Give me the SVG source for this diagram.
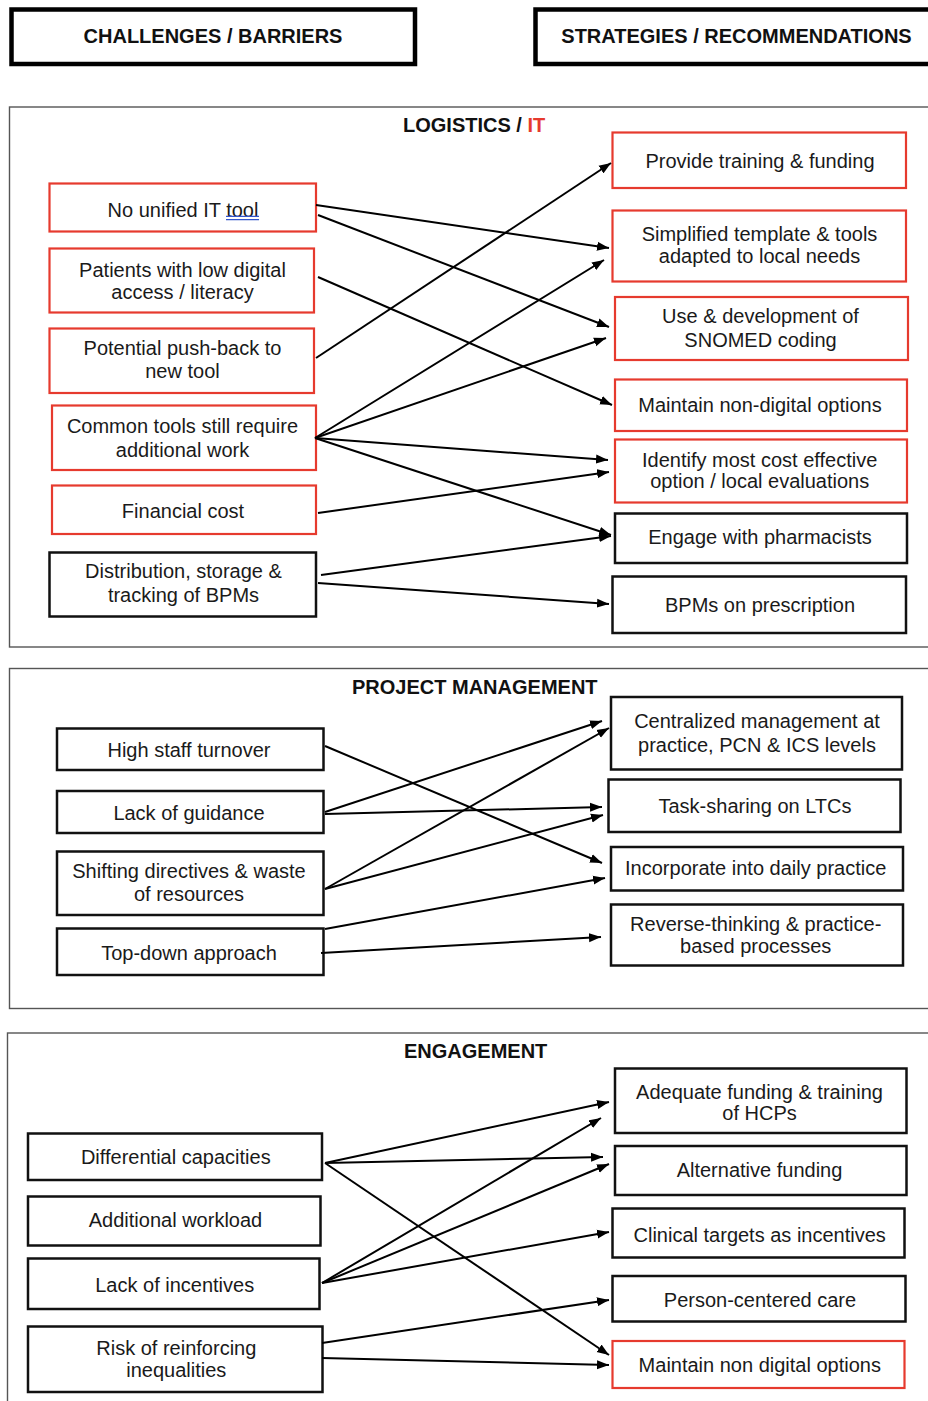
<svg xmlns="http://www.w3.org/2000/svg" width="928" height="1401" viewBox="0 0 928 1401">
<defs>
<style>
.r{fill:#fff;stroke:#e63a2e;stroke-width:2.2}
.k{fill:#fff;stroke:#111;stroke-width:2.5}
.hb{fill:#fff;stroke:#000;stroke-width:4.5}
.fr{fill:none;stroke:#555;stroke-width:1.4}
.t{font-family:"Liberation Sans",Arial,sans-serif;font-size:20px;fill:#1a1a1a;text-anchor:middle}
.b{font-family:"Liberation Sans",Arial,sans-serif;font-size:20px;font-weight:bold;fill:#111}
.c line{stroke:#000;stroke-width:2;marker-end:url(#a)}
</style>
<marker id="a" markerUnits="userSpaceOnUse" markerWidth="13" markerHeight="10" refX="12" refY="5" orient="auto">
<path d="M0,0.5 L12,5 L0,9.5 z" fill="#000"/>
</marker>
</defs>
<rect width="928" height="1401" fill="#fff"/>

<!-- headers -->
<g id="hdr-left"><rect class="hb" x="11.5" y="9.5" width="403.5" height="54.5"/><text class="b" x="213" y="43.3" text-anchor="middle">CHALLENGES / BARRIERS</text></g>
<g id="hdr-right"><rect class="hb" x="535.5" y="9.5" width="420" height="54.5"/><text class="b" x="736.5" y="43.3" text-anchor="middle">STRATEGIES / RECOMMENDATIONS</text></g>

<!-- section frames -->
<g id="sec-logistics"><rect class="fr" x="9.5" y="107" width="940" height="540"/><text class="b" x="403" y="132">LOGISTICS / <tspan fill="#e63a2e">IT</tspan></text></g>
<g id="sec-pm"><rect class="fr" x="9.5" y="668.5" width="940" height="340"/><text class="b" x="352" y="694.3">PROJECT MANAGEMENT</text></g>
<g id="sec-eng"><rect class="fr" x="7.5" y="1033" width="940" height="400"/><text class="b" x="404" y="1058.3">ENGAGEMENT</text></g>

<!-- logistics left -->
<g id="l1"><rect class="r" x="49.5" y="183.5" width="266.5" height="48"/><text class="t" x="183" y="217.3">No unified IT tool</text>
<line x1="226" y1="216.3" x2="259" y2="216.3" stroke="#3355cc" stroke-width="1.2"/><line x1="226" y1="219.6" x2="259" y2="219.6" stroke="#3355cc" stroke-width="1.2"/></g>
<g id="l2"><rect class="r" x="49.5" y="248.5" width="264.5" height="64"/><text class="t" x="182.5" y="276.7">Patients with low digital</text><text class="t" x="182.5" y="299">access / literacy</text></g>
<g id="l3"><rect class="r" x="49.5" y="328.5" width="264.5" height="64.5"/><text class="t" x="182.5" y="355">Potential push-back to</text><text class="t" x="182.5" y="378">new tool</text></g>
<g id="l4"><rect class="r" x="52" y="405.5" width="264" height="64.5"/><text class="t" x="182.5" y="433.3">Common tools still require</text><text class="t" x="182.5" y="457.3">additional work</text></g>
<g id="l5"><rect class="r" x="52" y="485.5" width="264" height="48.5"/><text class="t" x="183" y="518">Financial cost</text></g>
<g id="l6"><rect class="k" x="49.5" y="552.5" width="266.5" height="64"/><text class="t" x="183.5" y="578.3">Distribution, storage &amp;</text><text class="t" x="183.5" y="601.7">tracking of BPMs</text></g>

<!-- logistics right -->
<g id="r1"><rect class="r" x="612.5" y="132.5" width="293.5" height="55.5"/><text class="t" x="760" y="168">Provide training &amp; funding</text></g>
<g id="r2"><rect class="r" x="612.5" y="210.5" width="293.5" height="71"/><text class="t" x="759.5" y="240.5">Simplified template &amp; tools</text><text class="t" x="759.5" y="262.7">adapted to local needs</text></g>
<g id="r3"><rect class="r" x="615" y="297" width="293" height="63"/><text class="t" x="760.5" y="322.7">Use &amp; development of</text><text class="t" x="760.5" y="346.7">SNOMED coding</text></g>
<g id="r4"><rect class="r" x="615" y="379.5" width="292" height="51.5"/><text class="t" x="760" y="411.7">Maintain non-digital options</text></g>
<g id="r5"><rect class="r" x="615" y="439.5" width="292" height="63"/><text class="t" x="759.7" y="466.7">Identify most cost effective</text><text class="t" x="759.7" y="488.3">option / local evaluations</text></g>
<g id="r6"><rect class="k" x="615" y="513.5" width="292" height="49.5"/><text class="t" x="760" y="544">Engage with pharmacists</text></g>
<g id="r7"><rect class="k" x="612.5" y="576.5" width="293.5" height="56.5"/><text class="t" x="760" y="611.7">BPMs on prescription</text></g>

<!-- PM left -->
<g id="p1"><rect class="k" x="57" y="728.5" width="266.5" height="41.5"/><text class="t" x="189" y="756.7">High staff turnover</text></g>
<g id="p2"><rect class="k" x="57" y="791" width="266.5" height="42"/><text class="t" x="189" y="820">Lack of guidance</text></g>
<g id="p3"><rect class="k" x="57" y="851.5" width="266.5" height="63.5"/><text class="t" x="189" y="878.3">Shifting directives &amp; waste</text><text class="t" x="189" y="900.7">of resources</text></g>
<g id="p4"><rect class="k" x="57" y="928.5" width="266.5" height="46.5"/><text class="t" x="189" y="960">Top-down approach</text></g>

<!-- PM right -->
<g id="q1"><rect class="k" x="611" y="697" width="291" height="72.5"/><text class="t" x="757" y="728.3">Centralized management at</text><text class="t" x="757" y="751.7">practice, PCN &amp; ICS levels</text></g>
<g id="q2"><rect class="k" x="608.5" y="779.5" width="292" height="52.5"/><text class="t" x="755" y="812.7">Task-sharing on LTCs</text></g>
<g id="q3"><rect class="k" x="611" y="847" width="292" height="43.5"/><text class="t" x="755.7" y="875">Incorporate into daily practice</text></g>
<g id="q4"><rect class="k" x="611" y="904.5" width="292" height="61"/><text class="t" x="755.7" y="930.7">Reverse-thinking &amp; practice-</text><text class="t" x="755.7" y="953.3">based processes</text></g>

<!-- Engagement left -->
<g id="e1"><rect class="k" x="28" y="1133.5" width="294" height="46.5"/><text class="t" x="175.8" y="1164">Differential capacities</text></g>
<g id="e2"><rect class="k" x="28" y="1196.5" width="292.5" height="49"/><text class="t" x="175.5" y="1226.7">Additional workload</text></g>
<g id="e3"><rect class="k" x="28" y="1258.5" width="291.5" height="50.5"/><text class="t" x="174.7" y="1291.7">Lack of incentives</text></g>
<g id="e4"><rect class="k" x="28" y="1326.5" width="294.5" height="65.5"/><text class="t" x="176.3" y="1355">Risk of reinforcing</text><text class="t" x="176.3" y="1376.7">inequalities</text></g>

<!-- Engagement right -->
<g id="f1"><rect class="k" x="615" y="1068.5" width="291.5" height="64.5"/><text class="t" x="759.5" y="1099.3">Adequate funding &amp; training</text><text class="t" x="759.5" y="1120">of HCPs</text></g>
<g id="f2"><rect class="k" x="615" y="1146" width="291.5" height="49"/><text class="t" x="759.5" y="1176.7">Alternative funding</text></g>
<g id="f3"><rect class="k" x="612.5" y="1208.5" width="292" height="49"/><text class="t" x="759.7" y="1241.7">Clinical targets as incentives</text></g>
<g id="f4"><rect class="k" x="612.5" y="1276" width="293" height="45.5"/><text class="t" x="760" y="1306.7">Person-centered care</text></g>
<g id="f5"><rect class="r" x="612.5" y="1341" width="292" height="47"/><text class="t" x="759.8" y="1371.7">Maintain non digital options</text></g>

<!-- connectors -->
<g id="connectors" class="c">
<line x1="316" y1="205" x2="609" y2="248"/>
<line x1="318" y1="215" x2="609" y2="327"/>
<line x1="318" y1="277" x2="612" y2="405"/>
<line x1="316" y1="358" x2="611" y2="163"/>
<line x1="315" y1="438" x2="604" y2="260"/>
<line x1="315" y1="438" x2="606" y2="338"/>
<line x1="315" y1="438" x2="608" y2="460"/>
<line x1="315" y1="438" x2="611" y2="535"/>
<line x1="318" y1="513" x2="609" y2="472"/>
<line x1="321" y1="575" x2="611" y2="536"/>
<line x1="318" y1="583" x2="609" y2="604"/>

<line x1="325" y1="746" x2="602" y2="863"/>
<line x1="325" y1="812" x2="602" y2="721"/>
<line x1="325" y1="814" x2="602" y2="807"/>
<line x1="325" y1="889" x2="609" y2="728"/>
<line x1="325" y1="889" x2="603" y2="815"/>
<line x1="325" y1="929" x2="605" y2="878"/>
<line x1="321" y1="953" x2="601" y2="937"/>

<line x1="325" y1="1163" x2="609" y2="1102"/>
<line x1="325" y1="1163" x2="603" y2="1157"/>
<line x1="325" y1="1163" x2="609" y2="1355"/>
<line x1="322" y1="1283" x2="601" y2="1118"/>
<line x1="322" y1="1283" x2="609" y2="1164"/>
<line x1="322" y1="1283" x2="609" y2="1232"/>
<line x1="322" y1="1343" x2="609" y2="1300"/>
<line x1="322" y1="1358" x2="609" y2="1365"/>
</g>
</svg>
